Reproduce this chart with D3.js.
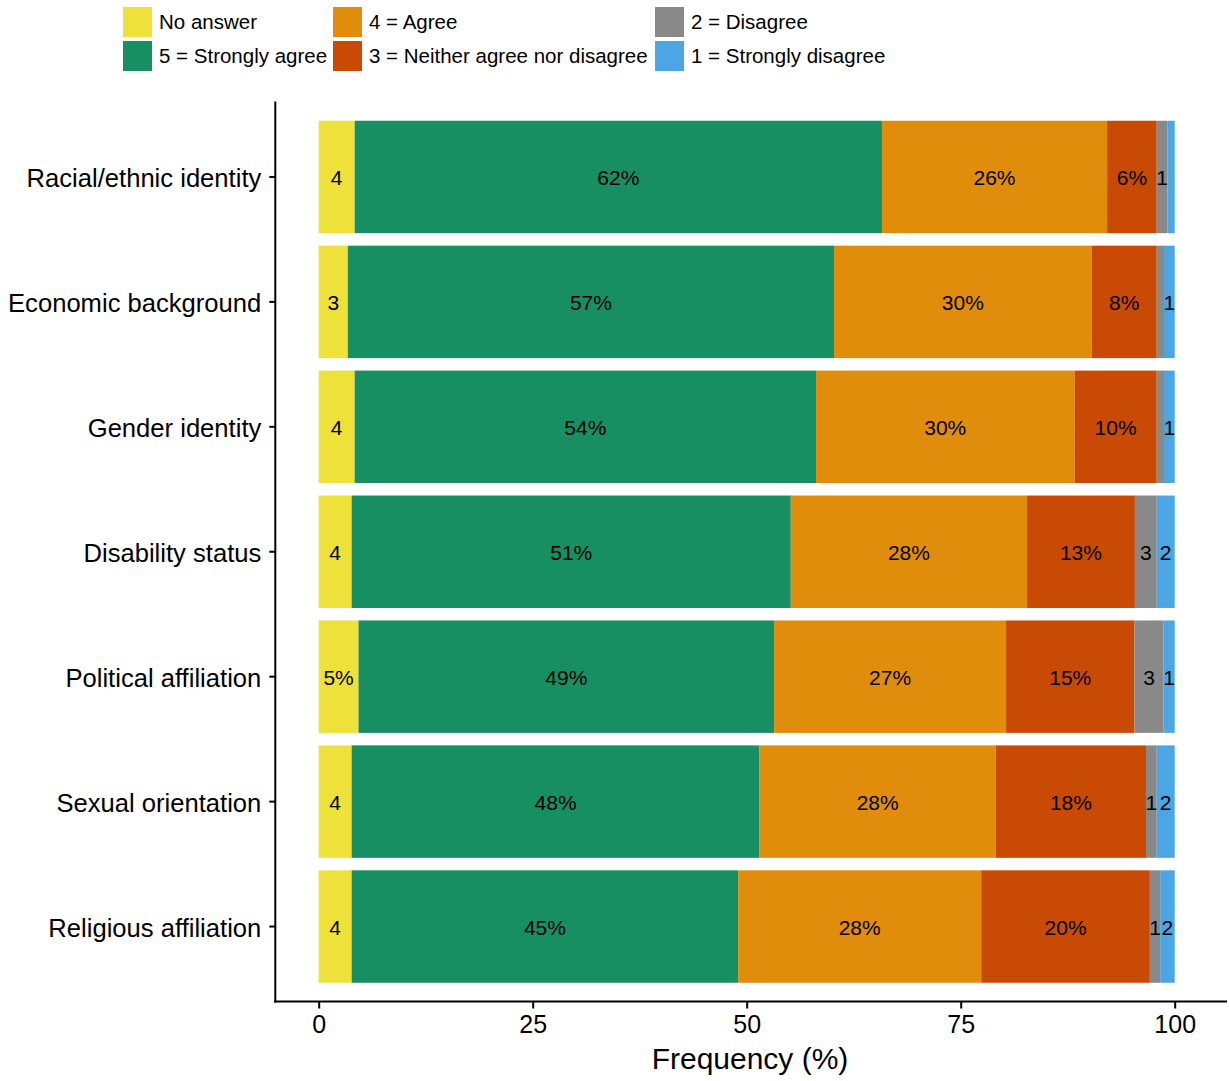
<!DOCTYPE html>
<html>
<head>
<meta charset="utf-8">
<script src="https://cdn.jsdelivr.net/npm/d3@7"></script>
<style>
  html, body { margin: 0; padding: 0; background: #fff; }
  svg { display: block; font-family: "Liberation Sans", Arial, sans-serif; }
</style>
</head>
<body>
<svg id="chart" width="1229" height="1081"></svg>
<script>
// ---- data ----
const categories = [
  "Racial/ethnic identity",
  "Economic background",
  "Gender identity",
  "Disability status",
  "Political affiliation",
  "Sexual orientation",
  "Religious affiliation"
];
const seriesNames = [
  "No answer",
  "5 = Strongly agree",
  "4 = Agree",
  "3 = Neither agree nor disagree",
  "2 = Disagree",
  "1 = Strongly disagree"
];
const noAnswer        = [4.2, 3.4, 4.2, 3.85, 4.65, 3.85, 3.85];
const stronglyAgree   = [61.6, 56.8, 53.9, 51.3, 48.55, 47.65, 45.15];
const agree           = [26.3, 30.1, 30.2, 27.6, 27.1, 27.6, 28.4];
const neither         = [5.8, 7.6, 9.6, 12.6, 15.0, 17.55, 19.7];
const disagree        = [1.25, 0.85, 0.85, 2.55, 3.4, 1.25, 1.2];
const stronglyDisagree= [0.85, 1.25, 1.25, 2.1, 1.3, 2.1, 1.7];
const xTicks = [0, 25, 50, 75, 100];
const colors = ["#EDE13A", "#178F62", "#DF8D0A", "#C94A05", "#898989", "#4BA6E3"];

// ---- build table ----
const seriesValues = [noAnswer, stronglyAgree, agree, neither, disagree, stronglyDisagree];
const rows = categories.map((c, i) => {
  const r = { category: c };
  seriesNames.forEach((s, j) => { r[s] = seriesValues[j][i]; });
  return r;
});
const stacked = d3.stack().keys(seriesNames)(rows);

const svg = d3.select("#chart");
const x = d3.scaleLinear().domain([0, 100]).range([318.7, 1174.7]);
const y = d3.scaleBand().domain(categories).range([102, 1001.5])
  .paddingInner(0.1).paddingOuter(0.15);
const color = d3.scaleOrdinal().domain(seriesNames).range(colors);

// bars
const layers = svg.append("g").selectAll("g").data(stacked).join("g")
  .attr("fill", d => color(d.key));
layers.selectAll("rect").data(d => d).join("rect")
  .attr("x", d => x(d[0]))
  .attr("y", d => y(d.data.category))
  .attr("width", d => x(d[1]) - x(d[0]))
  .attr("height", y.bandwidth());

// bar labels
function fmt(v) {
  if (v < 1) return "";
  const r = Math.round(v);
  return r >= 5 ? r + "%" : String(r);
}
const labG = svg.append("g").attr("font-size", 21).attr("fill", "#000")
  .attr("text-anchor", "middle");
stacked.forEach(layer => {
  layer.forEach(d => {
    const v = d[1] - d[0];
    const t = fmt(v);
    if (!t) return;
    labG.append("text")
      .attr("x", x((d[0] + d[1]) / 2))
      .attr("y", y(d.data.category) + y.bandwidth() / 2)
      .attr("dy", "0.38em")
      .text(t);
  });
});

// axes
const xAxis = svg.append("g").attr("transform", "translate(0,1001.5)")
  .call(d3.axisBottom(x).tickValues(xTicks).tickSize(7).tickPadding(7).tickFormat(d3.format("d")));
xAxis.select(".domain").remove();
xAxis.selectAll(".tick line").attr("stroke", "#000").attr("stroke-width", 2);
xAxis.selectAll(".tick text").attr("font-size", 25).attr("fill", "#000")
  .attr("font-family", "Liberation Sans, Arial, sans-serif");
svg.append("line").attr("x1", 274).attr("x2", 1227).attr("y1", 1001.5).attr("y2", 1001.5)
  .attr("stroke", "#000").attr("stroke-width", 2);

const yAxis = svg.append("g").attr("transform", "translate(275.3,0)")
  .call(d3.axisLeft(y).tickSize(6).tickPadding(8));
yAxis.select(".domain").remove();
yAxis.selectAll(".tick line").attr("stroke", "#000").attr("stroke-width", 2);
yAxis.selectAll(".tick text").attr("font-size", 25.6).attr("fill", "#000")
  .attr("dy", "0.40em")
  .attr("font-family", "Liberation Sans, Arial, sans-serif");
svg.append("line").attr("x1", 275.3).attr("x2", 275.3).attr("y1", 101.5).attr("y2", 1002.5)
  .attr("stroke", "#000").attr("stroke-width", 2);

// x title
svg.append("text").attr("x", 750).attr("y", 1069).attr("text-anchor", "middle")
  .attr("font-size", 30).attr("fill", "#000").text("Frequency (%)");

// legend (filled column-wise, 2 rows x 3 cols)
const legX = [123, 333, 655];
const legY = [7, 41];
const leg = svg.append("g");
seriesNames.forEach((s, i) => {
  const col = Math.floor(i / 2), row = i % 2;
  const g = leg.append("g").attr("transform", `translate(${legX[col]},${legY[row]})`);
  g.append("rect").attr("width", 29).attr("height", 30).attr("fill", color(s));
  g.append("text").attr("x", 36).attr("y", 15).attr("dy", "0.36em")
    .attr("font-size", 20.5).attr("fill", "#000").text(s);
});
</script>
</body>
</html>
